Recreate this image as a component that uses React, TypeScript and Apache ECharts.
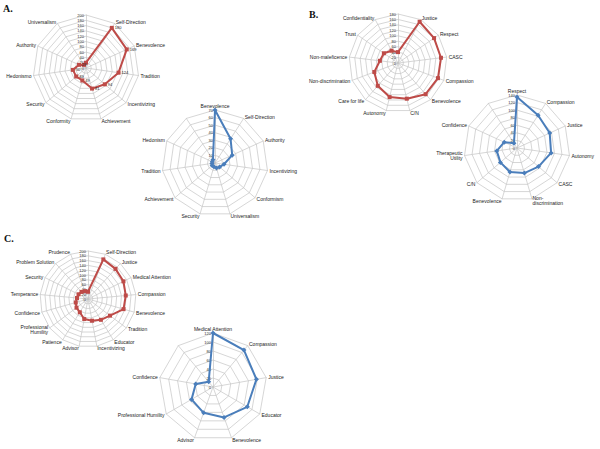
import React, { useEffect, useRef } from "react";
import * as echarts from "echarts";

const FONT = "'Liberation Sans', Arial, sans-serif";

// ---- A (top-left, red) ----
const a1Categories = ["", "Self-Direction", "Benevolence", "Tradition", "Incentivizing", "Achievement", "Conformity", "Security", "Hedonismo", "Authority", "Universalism"];
const a1Values = [20, 180, 169, 124, 94, 81, 49, 49, 50, 29, 14];
const a1Max = 200;
const a1Split = 10;

// ---- A (blue) ----
const a2Categories = ["Benevolence", "Self-Direction", "Authority", "Incentivizing", "Conformism", "Universalism", "Security", "Achievement", "Tradition", "Hedonism", ""];
const a2Values = [70, 38, 25, 12, 8, 7, 5, 5, 4, 4, 5];
const a2Max = 70;
const a2Split = 7;

// ---- B (red) ----
const b1Categories = ["", "Justice", "Respect", "CASC", "Compassion", "Benevolence", "C/N", "Autonomy", "Care for life", "Non-discrimination", "Non-maleficence", "Trust", "Confidentiality"];
const b1Values = [40, 171, 161, 159, 157, 153, 135, 129, 112, 93, 67, 63, 51];
const b1Max = 180;
const b1Split = 9;

// ---- B (blue) ----
const b2Categories = ["Respect", "Compassion", "Justice", "Autonomy", "CASC", "Non-\ndiscrimination", "Benevolence", "C/N", "Therapeutic\nUtility", "Confidence", ""];
const b2Values = [135, 103, 95, 91, 75, 69, 66, 58, 54, 37, 15];
const b2Max = 140;
const b2Split = 7;

// ---- C (red) ----
const c1Categories = ["", "Self-Direction", "Justice", "Medical Attention", "Compassion", "Benevolence", "Tradition", "Educator", "Incentivizing", "Advisor", "Patience", "Professional\nHumility", "Confidence", "Temperance", "Security", "Problem Solution", "Prudence"];
const c1Values = [30, 177, 170, 165, 158, 154, 115, 102, 92, 85, 65, 60, 53, 46, 44, 40, 35];
const c1Max = 200;
const c1Split = 10;

// ---- C (blue) ----
const c2Categories = ["Medical Attention", "Compassion", "Justice", "Educator", "Benevolence", "Advisor", "Professional Humility", "Confidence", ""];
const c2Values = [120, 107, 98, 88, 72, 61, 55, 39, 15];
const c2Max = 120;
const c2Split = 6;

const panelLetters = ["A.", "B.", "C."];

const RED = "#be4b48";
const BLUE = "#4a7ebb";
const GRID = "#c4c4c4";

// ECharts places indicators counter-clockwise; reorder so they read clockwise like the original.
function cw<T>(arr: T[]): T[] {
  return [arr[0], ...arr.slice(1).reverse()];
}

type Spec = {
  cats: string[];
  vals: number[];
  max: number;
  split: number;
  center: [number, number];
  radius: number;
  color: string;
  symbol: string;
  symbolSize: number;
  showLabels: boolean;
};

function labelText(p: any): string {
  const v = Array.isArray(p.value) ? p.value[p.dimensionIndex] : p.value;
  return typeof v === "number" && v >= 25 ? String(v) : "";
}

function build(specs: Spec[]) {
  const radar: any[] = [];
  const series: any[] = [];
  specs.forEach((s, i) => {
    const cats = cw(s.cats);
    radar.push({
      center: s.center,
      radius: s.radius,
      shape: "polygon",
      splitNumber: s.split,
      startAngle: 90,
      nameGap: 2,
      axisName: { color: "#222", fontSize: 5, fontFamily: FONT },
      splitArea: { show: false },
      splitLine: { lineStyle: { color: GRID, width: 0.7 } },
      axisLine: { lineStyle: { color: GRID, width: 0.7 } },
      axisTick: { show: false },
      axisLabel: { show: false },
      indicator: cats.map((name, k) =>
        k === 0
          ? {
              name,
              max: s.max,
              min: 0,
              axisLabel: { show: true, fontSize: 4, color: "#333", fontFamily: FONT, margin: 2 },
            }
          : { name, max: s.max, min: 0 }
      ),
    });
    series.push({
      type: "radar",
      radarIndex: i,
      symbol: s.symbol,
      symbolSize: s.symbolSize,
      lineStyle: { color: s.color, width: 2 },
      itemStyle: { color: s.color },
      label: s.showLabels
        ? { show: true, fontSize: 4, color: "#222", fontFamily: FONT, position: "right", distance: 1, formatter: labelText }
        : { show: false },
      data: [{ value: cw(s.vals), name: "s" + i }],
    });
  });
  return { radar, series };
}

export default function App() {
  const ref = useRef<HTMLDivElement>(null);
  useEffect(() => {
    if (!ref.current) return;
    const chart = echarts.init(ref.current, undefined, { renderer: "svg" });
    const { radar, series } = build([
      { cats: a1Categories, vals: a1Values, max: a1Max, split: a1Split, center: [86, 68], radius: 53, color: RED, symbol: "rect", symbolSize: 4, showLabels: true },
      { cats: a2Categories, vals: a2Values, max: a2Max, split: a2Split, center: [215, 163], radius: 53, color: BLUE, symbol: "diamond", symbolSize: 5, showLabels: false },
      { cats: b1Categories, vals: b1Values, max: b1Max, split: b1Split, center: [398, 63], radius: 49, color: RED, symbol: "rect", symbolSize: 4, showLabels: false },
      { cats: b2Categories, vals: b2Values, max: b2Max, split: b2Split, center: [517, 148], radius: 53, color: BLUE, symbol: "diamond", symbolSize: 5, showLabels: false },
      { cats: c1Categories, vals: c1Values, max: c1Max, split: c1Split, center: [88, 299], radius: 48, color: RED, symbol: "rect", symbolSize: 4, showLabels: false },
      { cats: c2Categories, vals: c2Values, max: c2Max, split: c2Split, center: [213, 387], radius: 54, color: BLUE, symbol: "diamond", symbolSize: 5, showLabels: false },
    ]);
    const letterPos: [number, number][] = [[3, 3], [309, 9], [4, 233]];
    chart.setOption({
      animation: false,
      backgroundColor: "#ffffff",
      radar,
      series,
      graphic: panelLetters.map((t, i) => ({
        type: "text",
        x: letterPos[i][0],
        y: letterPos[i][1],
        style: { text: t, fontSize: 10, fontWeight: "bold", fontFamily: "'Liberation Serif', 'DejaVu Serif', serif", fill: "#111" },
      })),
    });
    return () => chart.dispose();
  }, []);
  return <div ref={ref} style={{ position: "absolute", left: 0, top: 0, width: 600, height: 449 }} />;
}
